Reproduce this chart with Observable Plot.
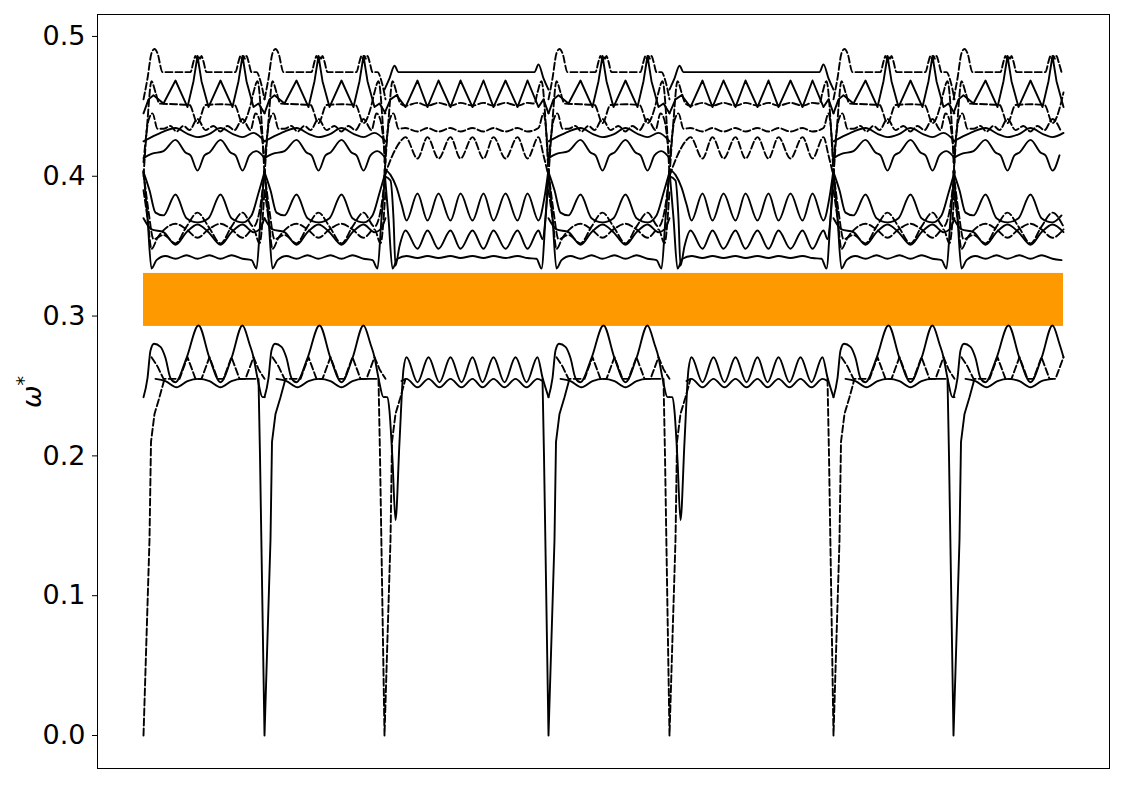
<!DOCTYPE html>
<html><head><meta charset="utf-8">
<script src="https://cdn.jsdelivr.net/npm/d3@7"></script>
<script src="https://cdn.jsdelivr.net/npm/@observablehq/plot@0.6"></script>
<style>html,body{margin:0;padding:0;background:#fff;overflow:hidden}#chart{position:absolute;left:0;top:0}</style>
</head><body><div id="chart"></div>
<script>
// ---- path layout (path coordinate along the k-path) ----
const segStarts = [0, 121, 241, 405, 526, 690, 810];
const segTypes  = ["A", "A", "B", "A", "B", "A", "A"];
const segEnds   = [121, 121, 164, 121, 164, 121, 110];
const pathRange = [0, 920];
const gapBand = [0.2926, 0.3305];
const yTicks = [0, 0.1, 0.2, 0.3, 0.4, 0.5];

// ---- acoustic dips at the path nodes ----
const dipAt   = [0, 121, 241, 405, 526, 690, 810];
const dipDash = [true, false, true, false, true, true, false];
const dipShape = [[-6,0.2551],[-4.5,0.2],[0,0],[6,0.14],[7.5,0.21],[11,0.23],[16,0.242],[21,0.2551]];

// ---- segment type A (length 121): [offset, omega*] ----
const A_top = [[0,0.455],[4,0.47],[8,0.488],[11,0.491],[14,0.488],[19,0.4745],[47,0.4745],[50,0.482],[52,0.486],[53.5,0.484],[55,0.486],[56.5,0.484],[58,0.486],[60,0.482],[63,0.4745],[92,0.4745],[95,0.482],[97,0.486],[98.5,0.484],[100,0.486],[101.5,0.484],[103,0.486],[105,0.482],[108,0.4745],[113,0.4745],[117,0.468],[121,0.455]];
const A_T2 = [[0,0.445],[5,0.455],[10,0.458],[20,0.452],[32,0.4685],[44,0.4495],[50,0.468],[54,0.486],[58,0.468],[65,0.4495],[77,0.4685],[89,0.4495],[95,0.468],[99,0.486],[103,0.468],[110,0.4495],[115,0.452],[121,0.445]];
const A_D3 = [[0,0.40],[4,0.44],[8,0.468],[12,0.46],[16,0.452],[32,0.4515],[46,0.451],[54,0.438],[62,0.451],[77,0.4515],[91,0.451],[99,0.438],[107,0.451],[110,0.46],[114,0.468],[118,0.44],[121,0.40]];
const A_D4 = [[0,0.41],[5,0.44],[9,0.445],[14,0.434],[20,0.434],[27,0.436],[33,0.432],[40,0.436],[46,0.433],[54,0.441],[62,0.433],[70,0.436],[77,0.432],[84,0.436],[91,0.433],[99,0.441],[107,0.433],[112,0.445],[116,0.44],[121,0.41]];
const A_T5 = [[0,0.425],[8,0.428],[20,0.432],[32,0.4345],[45,0.43],[54,0.428],[65,0.43],[77,0.4345],[90,0.43],[99,0.428],[110,0.431],[121,0.425]];
const A_T6 = [[0,0.413],[8,0.416],[20,0.418],[32,0.426],[42,0.417],[47,0.415],[54,0.404],[61,0.415],[66,0.417],[77,0.426],[87,0.417],[92,0.415],[99,0.404],[106,0.415],[113,0.418],[121,0.413]];
const A_S7 = [[0,0.403],[6,0.39],[12,0.374],[20,0.372],[32,0.387],[43,0.37],[54,0.367],[65,0.37],[77,0.387],[88,0.37],[99,0.367],[108,0.372],[115,0.388],[121,0.403]];
const A_D8a = [[0,0.403],[5,0.375],[10,0.355],[20,0.358],[32,0.352],[43,0.364],[54,0.374],[65,0.364],[77,0.352],[88,0.364],[99,0.374],[110,0.364],[116,0.375],[121,0.403]];
const A_D8b = [[0,0.39],[4,0.37],[8,0.348],[14,0.356],[21,0.362],[32,0.366],[43,0.362],[54,0.356],[65,0.362],[77,0.366],[88,0.362],[99,0.356],[110,0.362],[116,0.352],[121,0.39]];
const A_S9 = [[0,0.37],[8,0.362],[20,0.36],[32,0.351],[43,0.36],[54,0.3655],[65,0.36],[77,0.351],[88,0.36],[99,0.3655],[110,0.36],[116,0.362],[121,0.37]];
const A_S10 = [[0,0.404],[4,0.37],[8,0.334],[13,0.34],[22,0.343],[32,0.341],[43,0.3435],[54,0.341],[66,0.3435],[77,0.341],[88,0.3435],[99,0.341],[108,0.34],[113,0.334],[117,0.37],[121,0.404]];
const A_L1 = [[0,0.242],[4,0.2556],[7,0.2754],[10.5,0.2802],[17,0.278],[22,0.27],[27,0.2556],[32,0.2527],[43,0.27],[55,0.2933],[66,0.27],[77,0.2527],[88,0.27],[99,0.2933],[106,0.28],[110,0.2706],[114,0.2556],[119,0.242],[121,0.242]];
const A_L2 = [[12,0.2551],[22,0.2535],[33,0.2491],[44,0.2535],[55,0.2551],[66,0.2535],[77,0.2491],[88,0.2535],[99,0.2551],[112,0.2551]];
const A_D1 = [[8,0.2706],[14,0.264],[20,0.2551],[36,0.2551],[44,0.2706],[52,0.2551],[58,0.2551],[66,0.2706],[74,0.2551],[80,0.2551],[88,0.2706],[96,0.2551],[102,0.2551],[110,0.2706],[115,0.262],[121,0.2551]];

// ---- segment type B (length 164) ----
const B_top = [[0,0.462],[5,0.47],[10,0.479],[14,0.4745],[150,0.4745],[154,0.48],[159,0.47],[164,0.462]];
const B_T2 = [[0,0.445],[6,0.455],[12,0.458],[21,0.4495],[33,0.4685],[43,0.4495],[54,0.4685],[66,0.4495],[76,0.4685],[88,0.4495],[99,0.4685],[109,0.4495],[121,0.4685],[133,0.4495],[143,0.4685],[154,0.4495],[159,0.455],[164,0.445]];
const B_D3 = [[0,0.40],[4,0.44],[8,0.468],[12,0.46],[16,0.452],[21,0.4505],[33,0.4525],[43,0.4505],[54,0.4525],[66,0.4505],[76,0.4525],[88,0.4505],[99,0.4525],[109,0.4505],[121,0.4525],[133,0.4505],[143,0.4525],[150,0.452],[153,0.46],[157,0.468],[161,0.44],[164,0.40]];
const B_D4 = [[0,0.41],[5,0.44],[9,0.445],[14,0.434],[21,0.4345],[33,0.432],[43,0.4345],[54,0.432],[66,0.4345],[76,0.432],[88,0.4345],[99,0.432],[109,0.4345],[121,0.432],[133,0.4345],[143,0.432],[154,0.4345],[159,0.445],[164,0.41]];
const B_D5 = [[0,0.40],[8,0.415],[16,0.425],[21,0.428],[33,0.4127],[43,0.428],[54,0.4127],[66,0.428],[76,0.4127],[88,0.428],[99,0.4127],[109,0.428],[121,0.4127],[133,0.428],[143,0.4127],[154,0.428],[159,0.415],[164,0.40]];
const B_S7 = [[0,0.405],[6,0.401],[12,0.392],[17,0.38],[22,0.3684],[33,0.3877],[43,0.3684],[54,0.3877],[66,0.3684],[76,0.3877],[88,0.3684],[99,0.3877],[109,0.3684],[121,0.3877],[133,0.3684],[143,0.3877],[154,0.3684],[160,0.385],[164,0.405]];
const B_S9 = [[0,0.40],[6,0.397],[9,0.37],[11,0.336],[15,0.35],[21,0.3612],[33,0.3481],[43,0.3612],[54,0.3481],[66,0.3612],[76,0.3481],[88,0.3612],[99,0.3481],[109,0.3612],[121,0.3481],[133,0.3612],[143,0.3481],[154,0.3612],[158,0.355],[161,0.37],[164,0.40]];
const B_S10 = [[0,0.404],[4,0.37],[8,0.334],[13,0.341],[22,0.343],[33,0.3415],[43,0.343],[54,0.3415],[66,0.343],[76,0.3415],[88,0.343],[99,0.3415],[109,0.343],[121,0.3415],[133,0.343],[143,0.3415],[152,0.341],[157,0.334],[161,0.37],[164,0.404]];
const B_L1 = [[0,0.242],[3,0.242],[5,0.232],[8,0.197],[11,0.154],[15,0.21],[19,0.262],[22,0.2706],[33,0.2527],[44,0.2706],[55,0.2527],[66,0.2706],[77,0.2527],[88,0.2706],[98,0.2527],[109,0.2706],[120,0.2527],[131,0.2706],[142,0.2527],[153,0.2706],[158,0.256],[164,0.242]];
const B_L2 = [[17,0.2535],[22,0.2551],[33,0.2491],[44,0.2551],[55,0.2491],[66,0.2551],[77,0.2491],[88,0.2551],[98,0.2491],[109,0.2551],[120,0.2491],[131,0.2551],[142,0.2491],[153,0.2551],[158,0.2535]];

// line definitions: [points, dashed?, curve]
const linesA = [
  [A_top, true, "monotone-x"], [A_T2, false, "linear"], [A_D3, true, "monotone-x"],
  [A_D4, true, "monotone-x"], [A_T5, false, "monotone-x"], [A_T6, false, "monotone-x"],
  [A_S7, false, "monotone-x"], [A_D8a, true, "monotone-x"], [A_D8b, true, "monotone-x"],
  [A_S9, false, "monotone-x"], [A_S10, false, "monotone-x"], [A_L1, false, "monotone-x"],
  [A_L2, false, "monotone-x"], [A_D1, true, "linear"]
];
const linesB = [
  [B_top, false, "monotone-x"], [B_T2, false, "linear"], [B_D3, true, "monotone-x"],
  [B_D4, true, "monotone-x"], [B_D5, true, "monotone-x"], [B_S7, false, "monotone-x"],
  [B_S9, false, "monotone-x"], [B_S10, false, "monotone-x"], [B_L1, false, "monotone-x"],
  [B_L2, false, "monotone-x"]
];

// assemble rows
const groups = {"solid|monotone-x": [], "solid|linear": [], "dash|monotone-x": [], "dash|linear": []};
segStarts.forEach((s, i) => {
  const defs = segTypes[i] === "A" ? linesA : linesB;
  defs.forEach(([pts, dashed, curve], j) => {
    const key = (dashed ? "dash" : "solid") + "|" + curve;
    pts.filter(p => p[0] <= segEnds[i]).forEach(p => {
      groups[key].push({x: s + p[0], y: p[1], id: i + "-" + j});
    });
  });
});
const dipSolid = [], dipDashed = [];
dipAt.forEach((b, i) => {
  dipShape.forEach(p => {
    const x = b + p[0];
    if (x >= pathRange[0] && x <= pathRange[1]) (dipDash[i] ? dipDashed : dipSolid).push({x, y: p[1], id: "d" + i});
  });
});

const SW = 1.9, DASH = "7,3";
const lineMarks = Object.entries(groups).map(([key, rows]) => {
  const [st, curve] = key.split("|");
  return Plot.line(rows, {x: "x", y: "y", z: "id", curve, stroke: "black", strokeWidth: SW,
    strokeDasharray: st === "dash" ? DASH : null, strokeLinejoin: "round"});
});

const chart = Plot.plot({
  width: 1125, height: 785,
  marginLeft: 97, marginRight: 16, marginTop: 14, marginBottom: 17,
  x: {domain: [-46, 966], axis: null},
  y: {domain: [-0.0236, 0.5157], axis: null},
  style: {fontFamily: "'DejaVu Sans', sans-serif", background: "white", color: "black"},
  marks: [
    Plot.rect([gapBand], {x1: () => pathRange[0], x2: () => pathRange[1], y1: d => d[0], y2: d => d[1], fill: "#ff9900"}),
    ...lineMarks,
    Plot.line(dipSolid, {x: "x", y: "y", z: "id", stroke: "black", strokeWidth: SW}),
    Plot.line(dipDashed, {x: "x", y: "y", z: "id", stroke: "black", strokeWidth: SW, strokeDasharray: DASH}),
    Plot.axisY(yTicks, {tickSize: 5, tickPadding: 7, tickFormat: d3.format(".1f"), fontSize: 27, label: null, stroke: "black", color: "black"}),
    Plot.frame({stroke: "black", strokeWidth: 1})
  ]
});

const svg = d3.select(chart);
const lab = svg.append("text")
  .attr("transform", "translate(41,392) rotate(-90)")
  .attr("text-anchor", "middle")
  .attr("font-family", "'DejaVu Sans', sans-serif")
  .attr("font-size", 27)
  .attr("fill", "black");
lab.append("tspan").attr("font-style", "italic").text("ω");
lab.append("tspan").attr("dy", -11).attr("font-size", 19).text("*");

document.getElementById("chart").appendChild(chart);
</script>
</body></html>
